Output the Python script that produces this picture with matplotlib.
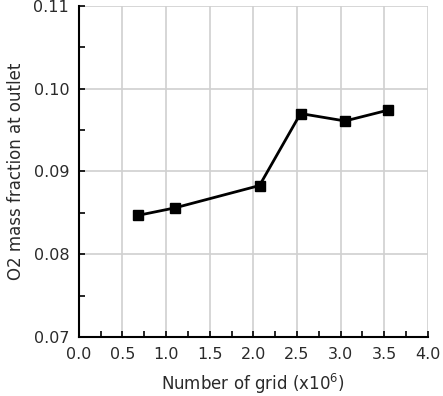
import matplotlib
matplotlib.use("Agg")
import matplotlib.pyplot as plt
from matplotlib.ticker import MultipleLocator

grid_millions = [0.68, 1.10, 2.07, 2.54, 3.05, 3.54]
o2_fraction = [0.0847, 0.0856, 0.0883, 0.0970, 0.0961, 0.0974]

plt.rcParams['font.family'] = ['DejaVu Sans']
fig = plt.figure(figsize=(4.43, 3.96), dpi=100)
ax = fig.add_axes([0.178, 0.149, 0.788, 0.836])

ax.plot(grid_millions, o2_fraction, color='black', lw=2, marker='s', ms=7, zorder=3, clip_on=False)

ax.set_xlim(0, 4.0)
ax.set_ylim(0.07, 0.11)
ax.xaxis.set_major_locator(MultipleLocator(0.5))
ax.xaxis.set_minor_locator(MultipleLocator(0.25))
ax.yaxis.set_major_locator(MultipleLocator(0.01))
ax.yaxis.set_minor_locator(MultipleLocator(0.005))
ax.xaxis.set_major_formatter(matplotlib.ticker.FormatStrFormatter('%.1f'))
ax.yaxis.set_major_formatter(matplotlib.ticker.FormatStrFormatter('%.2f'))

ax.grid(True, which='major', color='#d0d0d0', lw=1.2, zorder=0)
ax.set_axisbelow(True)
for s in ['top', 'right']:
    ax.spines[s].set_visible(False)
for s in ['left', 'bottom']:
    ax.spines[s].set_color('black')
    ax.spines[s].set_linewidth(1.5)

ax.tick_params(which='both', direction='in', color='black', labelsize=11.5, labelcolor='#2a2a2a',
               length=4, width=1.2)
ax.tick_params(which='major', pad=7)

ax.set_xlabel('Number of grid (x10$^6$)', fontsize=12, color='#2a2a2a', labelpad=7)
ax.set_ylabel('O2 mass fraction at outlet', fontsize=12, color='#2a2a2a', labelpad=6)

fig.savefig('out.png', dpi=100)
